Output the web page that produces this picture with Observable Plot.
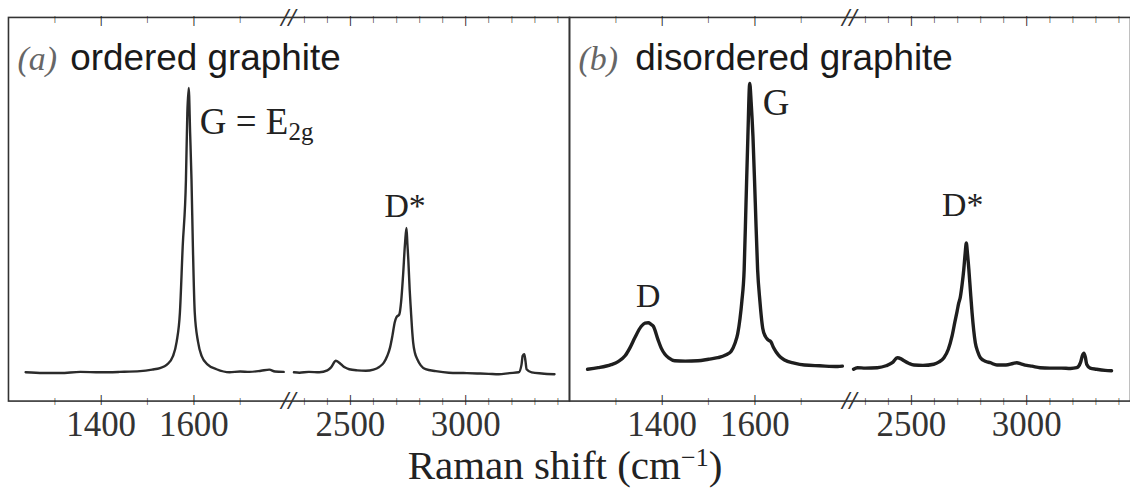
<!DOCTYPE html>
<html><head><meta charset="utf-8">
<script src="https://cdn.jsdelivr.net/npm/d3@7"></script>
<script src="https://cdn.jsdelivr.net/npm/@observablehq/plot@0.6"></script>
<style>
html,body{margin:0;padding:0;background:#fff;overflow:hidden;}
#wrap{position:relative;width:1130px;height:493px;overflow:hidden;background:#fff;}
#chart{position:absolute;left:0;top:0;}
#title{position:absolute;left:0;top:450px;width:1130px;text-align:center;font-family:"Liberation Serif","Times New Roman",serif;font-size:41px;line-height:30px;color:#222;}
#title sup{font-size:26px;line-height:0;vertical-align:0.5em;}
</style></head>
<body><div id="wrap"><div id="chart"></div><div id="title">Raman shift (cm<sup>−1</sup>)</div></div>
<script>
// ---- data (Raman shift in cm-1, intensity in arbitrary units) ----
const panels = ["a", "b"];
const panelTags = ["(a)", "(b)"];
const panelNames = ["ordered graphite", "disordered graphite"];

const xBreakDomain = [1200, 1800, 2240, 3450];
const yDomain = [0, 100];
const majorTicks = [1400, 1600, 2500, 3000];
const minorTicks = [1300, 1500, 1700, 2300, 2400, 2600, 2700, 2800, 2900, 3100, 3200, 3300, 3400];
const breakAt = [2020];

const orderedLow = [[1237,7.5],[1275,7.3],[1312,7.3],[1355,7.6],[1398,7.5],[1440,7.6],[1484,7.8],[1510,8.2],[1527,8.6],[1542,9.5],[1555,11.7],[1563,15.5],[1570,23.1],[1576,40.3],[1583,57.7],[1586,75],[1589,81.6],[1592,70],[1595,57.7],[1598,40.3],[1602,23.1],[1609,15.5],[1617,11.7],[1630,9.5],[1649,8.3],[1677,7.5],[1700,7.7],[1720,7.6],[1745,7.9],[1763,8.2],[1775,7.7],[1794,7.6]];
const orderedHigh = [[2255,7.5],[2279,7.4],[2320,7.6],[2365,7.5],[2400,8.0],[2416,8.8],[2437,10.5],[2459,9.6],[2475,8.8],[2495,8.3],[2530,8.0],[2567,7.9],[2600,8.2],[2625,8.9],[2645,10.0],[2660,11.8],[2672,14],[2682,17.0],[2692,20.5],[2699,21.8],[2712,22.6],[2720,26],[2728,32.5],[2737,41.3],[2743,45.1],[2747,41],[2751,36.9],[2757,29],[2762,23.9],[2767,19],[2772,15.3],[2780,12.5],[2790,10.9],[2805,9.3],[2826,8.3],[2870,7.8],[2927,7.4],[2990,7.3],[3050,7.2],[3100,7.1],[3143,7.0],[3190,7.3],[3230,7.5],[3242,9.5],[3247,11.8],[3254,12.2],[3259,10.5],[3264,8.3],[3286,7.5],[3330,7.2],[3385,7.0]];
const disorderedLow = [[1239,8.3],[1262,8.7],[1290,9.5],[1305,10.3],[1320,11.8],[1331,14],[1341,16.5],[1355,19.5],[1363,20.3],[1370,20.4],[1376,20],[1381,19.5],[1391,16.0],[1398,13.8],[1406,12.2],[1415,11.2],[1427,10.5],[1450,10.4],[1477,10.5],[1500,10.9],[1520,11.3],[1537,12.0],[1549,13.0],[1557,15.0],[1563,17.5],[1568,21.5],[1572,26],[1577,34.3],[1581,51.7],[1585,68.9],[1589,82.8],[1592,78],[1596,68.9],[1601,51.7],[1606,34.3],[1611,26],[1617,19],[1623,16.8],[1628,16.0],[1635,15.4],[1640,14],[1646,12.8],[1655,11.5],[1664,10.7],[1685,9.9],[1707,9.4],[1740,9.2],[1779,9.0],[1789,9.1]];
const disorderedHigh = [[2249,8.3],[2266,8.7],[2300,8.6],[2352,8.7],[2390,9.2],[2417,10.0],[2439,11.3],[2455,11.0],[2468,10.5],[2490,9.8],[2511,9.4],[2550,9.3],[2597,9.6],[2620,10.2],[2641,11.3],[2660,13.5],[2676,16.9],[2688,20.5],[2698,23.4],[2705,25.5],[2712,27.1],[2720,30.5],[2727,34.3],[2733,38.5],[2738,41.2],[2743,38.5],[2749,34.3],[2756,28.5],[2763,23.0],[2770,18.5],[2777,15.2],[2788,12.8],[2799,11.3],[2820,10.4],[2842,10.0],[2871,9.4],[2910,9.4],[2940,9.8],[2957,10.0],[2975,9.7],[3000,9.3],[3022,9.1],[3058,8.7],[3100,8.6],[3150,8.6],[3190,8.5],[3217,8.7],[3233,10.0],[3241,11.8],[3248,12.5],[3254,11.5],[3260,9.6],[3275,8.6],[3303,8.3],[3340,8.0],[3368,7.9]];

// peak labels (centred above peaks)
const labelPanel = ["a", "b", "b"];
const labelText = ["D*", "D*", "D"];
const labelShift = [2737, 2722, 1370];
const labelHeight = [50.7, 51, 27.3];
// peak labels written to the right of the G line
const sideLabelPanel = ["a", "b"];
const sideLabelText = ["G = E", "G"];
const sideLabelShift = [1613, 1617];
const sideLabelHeight = [72.8, 77.7];

// ---- build tables ----
const rows = [];
function add(panel, seg, pts) { for (const [v, i] of pts) rows.push({panel, seg, v, i}); }
add("a", "low", orderedLow); add("a", "high", orderedHigh);
add("b", "low", disorderedLow); add("b", "high", disorderedHigh);
const labels = labelText.map((t, k) => ({panel: labelPanel[k], text: t, v: labelShift[k], i: labelHeight[k]}));
const sideLabels = sideLabelText.map((t, k) => ({panel: sideLabelPanel[k], text: t, v: sideLabelShift[k], i: sideLabelHeight[k]}));
const titles = panels.map((p, k) => ({panel: p, tag: panelTags[k], name: panelNames[k]}));
const breaks = panels.flatMap(p => breakAt.map(v => ({panel: p, v})));
const tickRows = panels.flatMap(p => [
  ...minorTicks.map(v => ({panel: p, v, major: false})),
  ...majorTicks.map(v => ({panel: p, v, major: true}))
]);

const serif = "'Liberation Serif','Times New Roman',serif";
const sans = "'Liberation Sans',Arial,sans-serif";
const ink = "#333";

const chart = Plot.plot({
  width: 1134, height: 446,
  marginLeft: 8, marginRight: 0, marginTop: 17, marginBottom: 44,
  style: {background: "white", overflow: "visible"},
  fx: {domain: panels, padding: 0, axis: null, label: null},
  x: {type: "linear", domain: xBreakDomain, range: [8, 287, 291, 571], label: null},
  y: {domain: yDomain, axis: null},
  marks: [
    Plot.frame({stroke: ink, strokeWidth: 1.6}),
    Plot.axisX({ticks: majorTicks, anchor: "bottom", tickSize: 0, tickPadding: 10, tickFormat: d => String(d),
      fontSize: 35, fontFamily: serif, fill: ink, label: null}),
    Plot.text(breaks, {x: "v", fx: "panel", frameAnchor: "bottom", text: () => "//", fontSize: 26, fontWeight: "bold", fontStyle: "italic", fontFamily: serif, fill: ink, lineAnchor: "middle"}),
    Plot.text(breaks, {x: "v", fx: "panel", frameAnchor: "top", text: () => "//", fontSize: 26, fontWeight: "bold", fontStyle: "italic", fontFamily: serif, fill: ink, lineAnchor: "middle"}),
    Plot.line(rows.filter(d => d.panel === "a"), {x: "v", y: "i", z: "seg", fx: "panel", stroke: "#2b2b2b", strokeWidth: 2.4, curve: "monotone-x"}),
    Plot.line(rows.filter(d => d.panel === "b"), {x: "v", y: "i", z: "seg", fx: "panel", stroke: "#1e1e1e", strokeWidth: 3.4, curve: "monotone-x"}),
    // panel titles
    Plot.text(titles, {fx: "panel", frameAnchor: "top-left", text: "tag", dx: 9, dy: 29, fontSize: 34, fontFamily: serif, fontStyle: "italic", fill: "#666"}),
    Plot.text(titles.filter(d => d.panel === "a"), {fx: "panel", frameAnchor: "top-left", text: "name", dx: 62, dy: 26, fontSize: 37, fontFamily: sans, fill: "#1a1a1a"}),
    Plot.text(titles.filter(d => d.panel === "b"), {fx: "panel", frameAnchor: "top-left", text: "name", dx: 66, dy: 26, fontSize: 37, fontFamily: sans, fill: "#1a1a1a"}),
    // peak labels
    Plot.text(labels, {x: "v", y: "i", fx: "panel", text: "text", fontSize: 34, fontFamily: serif, fill: "#222", textAnchor: "middle", lineAnchor: "middle"}),
    Plot.text(sideLabels, {x: "v", y: "i", fx: "panel", text: "text", fontSize: 37, fontFamily: serif, fill: "#222", textAnchor: "start", lineAnchor: "middle"}),
    Plot.text(sideLabels.filter(d => d.panel === "a"), {x: "v", y: "i", fx: "panel", text: () => "2g", dx: 89, dy: 10, fontSize: 25, fontFamily: serif, fill: "#222", textAnchor: "start", lineAnchor: "middle"}),
    // inward tick marks along the bottom and top edges, drawn as short glyph strokes
    Plot.text(tickRows, {x: "v", fx: "panel", frameAnchor: "bottom", text: () => "|", fontSize: d => d.major ? 11 : 7, fontFamily: sans, fill: "#222", lineAnchor: "bottom", dy: 2}),
    Plot.text(tickRows, {x: "v", fx: "panel", frameAnchor: "top", text: () => "|", fontSize: d => d.major ? 11 : 7, fontFamily: sans, fill: "#222", lineAnchor: "top", dy: -1})
  ]
});
document.getElementById("chart").appendChild(chart);
</script>
</body></html>
